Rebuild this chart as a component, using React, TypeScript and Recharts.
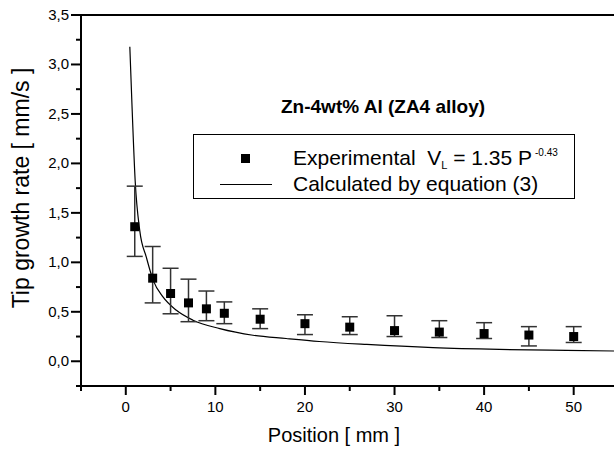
import React from "react"
import {
  ComposedChart,
  Line,
  Scatter,
  ErrorBar,
  XAxis,
  YAxis,
  ReferenceLine,
  Legend,
} from "recharts"

// measured positions (mm) and tip growth rates (mm/s)
const positions = [1, 3, 5, 7, 9, 11, 15, 20, 25, 30, 35, 40, 45, 50]
const rates = [1.36, 0.84, 0.685, 0.59, 0.53, 0.485, 0.425, 0.38, 0.345, 0.31, 0.295, 0.28, 0.265, 0.25]
const errUpper = [1.77, 1.16, 0.94, 0.83, 0.71, 0.6, 0.53, 0.47, 0.45, 0.46, 0.41, 0.39, 0.35, 0.35]
const errLower = [1.06, 0.59, 0.48, 0.4, 0.41, 0.38, 0.33, 0.27, 0.27, 0.25, 0.24, 0.23, 0.155, 0.19]

// calculated curve, equation (3)
const calcX = [0.45, 0.67, 1.05, 1.56, 2.3, 3.05, 4.15, 5.65, 7.5, 10.5, 14.2, 17.9, 21.6, 26.9, 34.3, 41.7, 49.2, 54.5]
const calcY = [3.18, 2.64, 1.82, 1.32, 1.05, 0.82, 0.65, 0.515, 0.415, 0.33, 0.263, 0.23, 0.2, 0.17, 0.138, 0.12, 0.11, 0.104]

const xTicks = [-5, 0, 5, 10, 15, 20, 25, 30, 35, 40, 45, 50]
const yTicks = [-0.25, 0, 0.25, 0.5, 0.75, 1, 1.25, 1.5, 1.75, 2, 2.25, 2.5, 2.75, 3, 3.25, 3.5]

const FONT = '"Liberation Sans", Arial, Helvetica, sans-serif'

const expData = positions.map((x, i) => ({
  x,
  y: rates[i],
  err: [rates[i] - errLower[i], errUpper[i] - rates[i]],
}))
const calcData = calcX.map((x, i) => ({ x, y: calcY[i] }))

const Square = (props: any) => {
  const { cx, cy } = props
  if (cx == null || cy == null) return null
  return <rect x={cx - 4.5} y={cy - 4.5} width={9} height={9} fill="#000" />
}

const XTick = (props: any) => {
  const { x, y, payload } = props
  const major = payload.value % 10 === 0
  return (
    <g>
      <line x1={x} y1={y} x2={x} y2={y + (major ? 9 : 5)} stroke="#000" strokeWidth={2} />
      {major && (
        <text x={x} y={y + 26} textAnchor="middle" fontSize={15} fontFamily={FONT} fill="#000">
          {payload.value}
        </text>
      )}
    </g>
  )
}

const YTick = (props: any) => {
  const { x, y, payload } = props
  const v = payload.value
  const major = Math.abs(v * 2 - Math.round(v * 2)) < 1e-6
  return (
    <g>
      <line x1={x - (major ? 10 : 5)} y1={y} x2={x} y2={y} stroke="#000" strokeWidth={2} />
      {major && (
        <text x={x - 12} y={y + 5} textAnchor="end" fontSize={15} fontFamily={FONT} fill="#000">
          {v.toFixed(1).replace(".", ",")}
        </text>
      )}
    </g>
  )
}

const LegendBox = () => (
  <div
    style={{
      position: "relative",
      width: 382,
      height: 65,
      border: "1.5px solid #000",
      boxSizing: "border-box",
      fontFamily: FONT,
      fontSize: 21,
      lineHeight: "21px",
      color: "#000",
      background: "#fff",
    }}
  >
    <div style={{ position: "absolute", left: 47, top: 19, width: 9, height: 9, background: "#000" }} />
    <div style={{ position: "absolute", left: 99, top: 12, whiteSpace: "nowrap" }}>
      Experimental&nbsp;&nbsp;V
      <span style={{ fontSize: 11, position: "relative", top: 4, lineHeight: 0 }}>L</span> = 1.35 P
      <span style={{ fontSize: 10, position: "relative", top: -9, lineHeight: 0, marginLeft: 3 }}>-0.43</span>
    </div>
    <div style={{ position: "absolute", left: 26, top: 49, width: 52, height: 1, background: "#000" }} />
    <div style={{ position: "absolute", left: 99, top: 38, whiteSpace: "nowrap" }}>
      Calculated by equation (3)
    </div>
  </div>
)

export default function App() {
  return (
    <div style={{ position: "absolute", left: 0, top: 0, width: 614, height: 451, background: "#fff" }}>
      <ComposedChart width={614} height={451} margin={{ top: 15, right: 0, bottom: 0, left: 0 }}>
        <XAxis
          dataKey="x"
          type="number"
          domain={[-5, 54.5]}
          ticks={xTicks}
          allowDataOverflow
          height={65}
          tickSize={0}
          tickMargin={0}
          tickLine={false}
          tick={<XTick />}
          axisLine={{ stroke: "#000", strokeWidth: 2 }}
          label={() => (
            <text x={334} y={442} textAnchor="middle" fontSize={20} fontFamily={FONT} fill="#000">
              Position [ mm ]
            </text>
          )}
        />
        <YAxis
          dataKey="y"
          type="number"
          domain={[-0.25, 3.5]}
          ticks={yTicks}
          allowDataOverflow
          width={81}
          tickSize={0}
          tickMargin={0}
          tickLine={false}
          tick={<YTick />}
          axisLine={{ stroke: "#000", strokeWidth: 2 }}
          label={() => (
            <text
              x={29}
              y={188}
              textAnchor="middle"
              fontSize={23}
              fontFamily={FONT}
              fill="#000"
              transform="rotate(-90 29 188)"
            >
              Tip growth rate [ mm/s ]
            </text>
          )}
        />
        <ReferenceLine y={3.5} stroke="#000" strokeWidth={2} />
        <Legend
          verticalAlign="middle"
          align="center"
          content={() => <LegendBox />}
          wrapperStyle={{ left: 193, top: 134, width: 382, height: 65 }}
        />
        <Line
          data={calcData}
          dataKey="y"
          type="monotone"
          stroke="#000"
          strokeWidth={1.2}
          dot={false}
          isAnimationActive={false}
          legendType="none"
        />
        <Scatter data={expData} dataKey="y" shape={<Square />} isAnimationActive={false} legendType="none">
          <ErrorBar dataKey="err" direction="y" width={8} stroke="#333" strokeWidth={1.5} />
        </Scatter>
      </ComposedChart>
      <div
        style={{
          position: "absolute",
          left: 281,
          width: 200,
          top: 97,
          textAlign: "center",
          fontFamily: FONT,
          fontWeight: "bold",
          fontSize: 19,
          lineHeight: "19px",
          whiteSpace: "nowrap",
        }}
      >
        Zn-4wt% Al (ZA4 alloy)
      </div>
    </div>
  )
}
